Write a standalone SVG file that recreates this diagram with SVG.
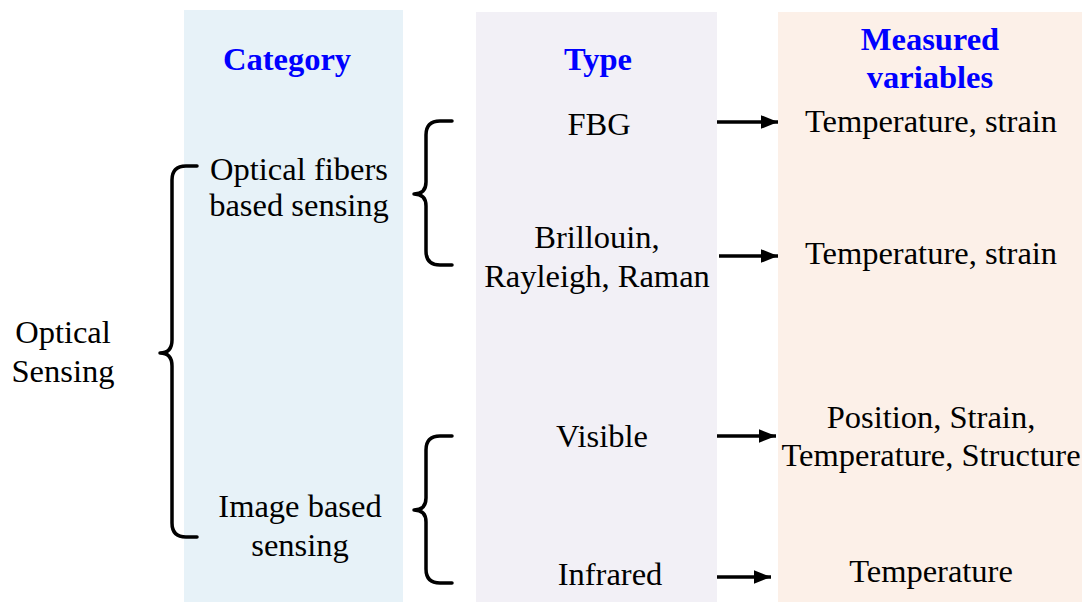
<svg xmlns="http://www.w3.org/2000/svg" width="1086" height="602" viewBox="0 0 1086 602">
<defs>
<style>
text{font-family:"Liberation Serif","Times New Roman",serif;font-size:32.5px;fill:#000;text-anchor:middle}
.h{font-weight:bold;fill:#0000ff}
.br{fill:none;stroke:#000;stroke-width:3.5;stroke-linecap:round;stroke-linejoin:round}
.ar{fill:none;stroke:#000;stroke-width:3.5}
</style>
<marker id="ah" viewBox="0 0 10 10" refX="10" refY="5" markerWidth="5" markerHeight="4" markerUnits="strokeWidth" orient="auto" preserveAspectRatio="none">
<path d="M0,0 L10,5 L0,10 z" fill="#000"/>
</marker>
</defs>
<rect width="1086" height="602" fill="#fff"/>
<g id="panels">
<rect id="panel-category" x="184" y="10" width="219" height="592" fill="#e7f2f8"/>
<rect id="panel-type" x="476" y="12" width="241" height="590" fill="#f2f0f6"/>
<rect id="panel-measured" x="778" y="12" width="304" height="590" fill="#fcf0e8"/>
</g>
<g id="headers">
<text class="h" x="287" y="70">Category</text>
<text class="h" x="598" y="70">Type</text>
<text class="h" x="930" y="50">Measured</text>
<text class="h" x="930" y="88">variables</text>
</g>
<g id="node-optical-sensing"><text x="63" y="343">Optical</text><text x="63" y="382">Sensing</text></g>
<g id="node-fiber"><text x="299" y="180">Optical fibers</text><text x="299" y="216">based sensing</text></g>
<g id="node-image"><text x="300" y="517">Image based</text><text x="300" y="556">sensing</text></g>
<g id="node-fbg"><text x="599" y="135">FBG</text></g>
<g id="node-brillouin"><text x="597" y="248">Brillouin,</text><text x="597" y="287">Rayleigh, Raman</text></g>
<g id="node-visible"><text x="602" y="447">Visible</text></g>
<g id="node-infrared"><text x="610" y="585">Infrared</text></g>
<g id="node-m1"><text x="931" y="132">Temperature, strain</text></g>
<g id="node-m2"><text x="931" y="264">Temperature, strain</text></g>
<g id="node-m3"><text x="931" y="428">Position, Strain,</text><text x="931" y="466">Temperature, Structure</text></g>
<g id="node-m4"><text x="931" y="582">Temperature</text></g>
<g id="connectors">
<path class="br" d="M197,166 H186 Q172,166 172,180 V340 Q172,353 160,353 Q172,353 172,366 V523 Q172,537 186,537 H197"/>
<path class="br" d="M452,121 H440 Q426,121 426,135 V182 Q426,194 414,194 Q426,194 426,206 V251 Q426,265 440,265 H452"/>
<path class="br" d="M452,436 H440 Q426,436 426,450 V498 Q426,510 414,510 Q426,510 426,522 V569 Q426,583 440,583 H452"/>
<line class="ar" x1="717" y1="122" x2="778" y2="122" marker-end="url(#ah)"/>
<line class="ar" x1="719" y1="256" x2="778" y2="256" marker-end="url(#ah)"/>
<line class="ar" x1="717" y1="436" x2="776" y2="436" marker-end="url(#ah)"/>
<line class="ar" x1="717" y1="577" x2="771" y2="577" marker-end="url(#ah)"/>
</g>
</svg>
